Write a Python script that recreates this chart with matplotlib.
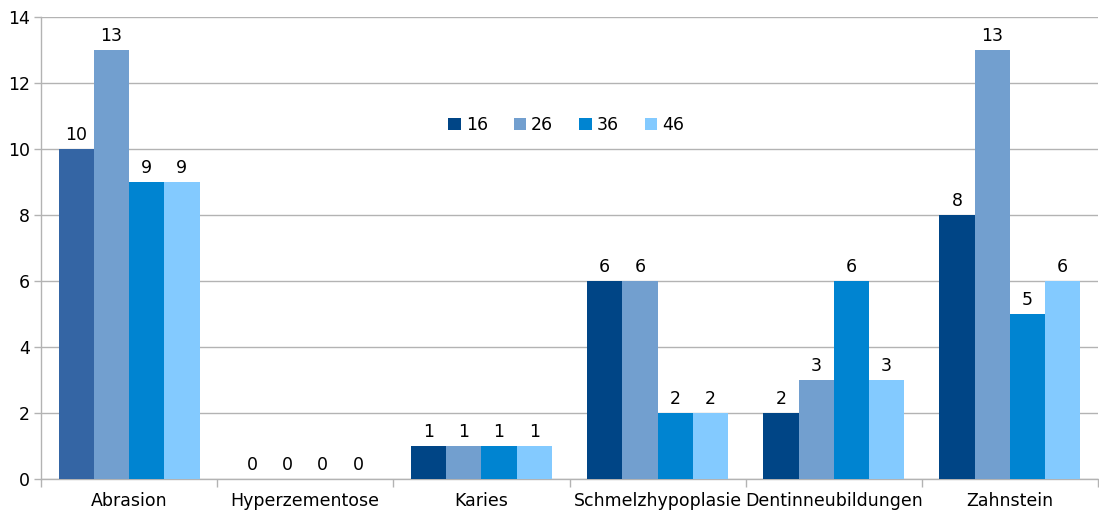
import matplotlib
matplotlib.use("Agg")
import matplotlib.pyplot as plt
from matplotlib.patches import Patch
import numpy as np

plt.rcParams["font.family"] = ["DejaVu Sans"]

# Data
categories = ["Abrasion", "Hyperzementose", "Karies", "Schmelzhypoplasie",
              "Dentinneubildungen", "Zahnstein"]
series_names = ["16", "26", "36", "46"]
values_16 = [10, 0, 1, 6, 2, 8]
values_26 = [13, 0, 1, 6, 3, 13]
values_36 = [9, 0, 1, 2, 6, 5]
values_46 = [9, 0, 1, 2, 3, 6]

colors = ["#004586", "#729fcf", "#0084d1", "#83caff"]
grid_color = "#b3b3b3"
fs = 12.5

fig = plt.figure(figsize=(10.99, 5.12), dpi=100)
ax = fig.add_axes([41 / 1099, 33 / 512, 1057 / 1099, 462 / 512])

x = np.arange(len(categories))
width = 0.2
all_values = [values_16, values_26, values_36, values_46]

for i, (name, vals) in enumerate(zip(series_names, all_values)):
    offset = (i - 1.5) * width
    bars = ax.bar(x + offset, vals, width, color=colors[i], label=name,
                  zorder=3, linewidth=0)
    ax.bar_label(bars, labels=[str(v) for v in vals], padding=3.5,
                 fontsize=fs, color="#000000")

# the first Abrasion bar is drawn in a lighter navy in the original
ax.patches[0].set_facecolor("#3465a4")

ax.set_xlim(-0.5, len(categories) - 0.5)
ax.set_ylim(0, 14)
ax.set_yticks(range(0, 15, 2))
ax.yaxis.grid(True, color=grid_color, linewidth=1, zorder=0)
ax.set_axisbelow(True)

ax.set_xticks(x)
ax.set_xticklabels(categories, fontsize=fs)
ax.tick_params(axis="x", which="major", length=0, pad=9)
ax.set_xticks(np.arange(-0.5, len(categories)), minor=True)
ax.tick_params(axis="x", which="minor", length=6, color=grid_color, width=1)
ax.tick_params(axis="y", labelsize=fs, length=5, color=grid_color, width=1, pad=3)

for side in ["top", "right"]:
    ax.spines[side].set_visible(False)
for side in ["left", "bottom"]:
    ax.spines[side].set_color(grid_color)
    ax.spines[side].set_linewidth(1)

handles = [Patch(facecolor=c, edgecolor="none") for c in colors]
ax.legend(handles, series_names, loc="center", bbox_to_anchor=(0.497, 0.766),
          ncol=4, frameon=False, fontsize=fs, handlelength=0.7,
          handleheight=0.7, handletextpad=0.3, columnspacing=1.5)

fig.savefig("out.png", dpi=100)
plt.close(fig)
